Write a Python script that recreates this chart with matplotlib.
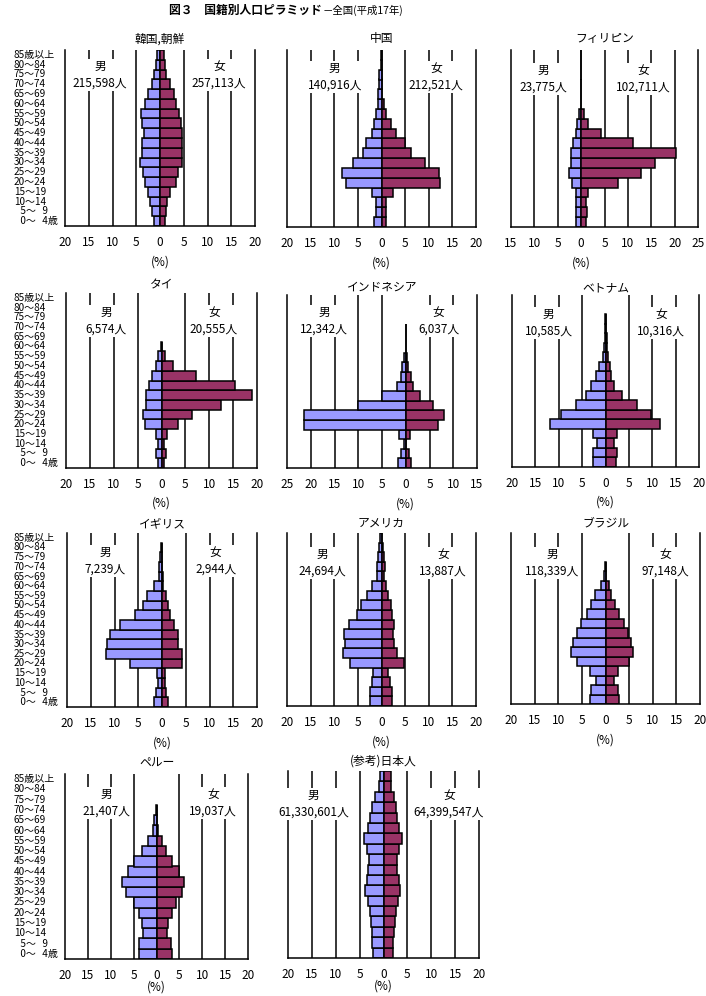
import numpy as np
import matplotlib.pyplot as plt

plt.rcParams['font.family'] = ['Noto Sans CJK JP', 'DejaVu Sans']

# 年齢階級（下から上へ）
ages = ['\u20070～\u20074歳', '\u20075～\u20079', '10～14', '15～19', '20～24', '25～29',
        '30～34', '35～39', '40～44', '45～49', '50～54', '55～59', '60～64',
        '65～69', '70～74', '75～79', '80～84', '85歳以上']

names = ['韓国,朝鮮', '中国', 'フィリピン', 'タイ', 'インドネシア', 'ベトナム',
         'イギリス', 'アメリカ', 'ブラジル', 'ペルー', '(参考)日本人']
male_total = ['215,598人', '140,916人', '23,775人', '6,574人', '12,342人', '10,585人',
              '7,239人', '24,694人', '118,339人', '21,407人', '61,330,601人']
female_total = ['257,113人', '212,521人', '102,711人', '20,555人', '6,037人', '10,316人',
                '2,944人', '13,887人', '97,148人', '19,037人', '64,399,547人']

# 構成比 (%)  0～4歳 ... 85歳以上
korea_m = [1.2, 1.65, 2.05, 2.5, 3.15, 3.55, 4.2, 3.8, 3.8, 3.4, 3.8, 4.0, 3.15, 2.5, 1.65, 1.3, 0.8, 0.65]
korea_f = [0.95, 1.35, 1.55, 2.2, 3.4, 3.7, 4.55, 4.55, 4.55, 4.55, 4.35, 3.9, 3.3, 2.85, 2.0, 1.35, 1.0, 0.8]
china_m = [1.5, 1.2, 1.2, 2.1, 7.5, 8.35, 6.0, 3.85, 3.2, 2.1, 1.5, 1.1, 0.65, 0.65, 0.5, 0.5, 0.1, 0.1]
china_f = [0.85, 0.85, 0.85, 2.4, 12.3, 12.1, 9.2, 6.3, 4.9, 3.0, 2.0, 0.9, 0.45, 0.1, 0.1, 0.1, 0.05, 0.05]
phil_m = [1.15, 1.15, 1.15, 1.15, 2.0, 2.65, 2.15, 2.15, 1.8, 1.15, 0.95, 0.45, 0.05, 0.05, 0.05, 0.05, 0.05, 0.05]
phil_f = [1.0, 1.2, 1.0, 1.4, 7.85, 12.8, 15.7, 20.3, 11.1, 4.2, 1.4, 0.55, 0.05, 0.05, 0.05, 0.05, 0.05, 0.05]
thai_m = [0.8, 1.1, 0.8, 1.1, 3.5, 3.9, 3.2, 3.2, 2.65, 1.95, 1.1, 0.8, 0.2, 0, 0, 0, 0, 0]
thai_f = [0.5, 1.0, 0.5, 1.15, 3.5, 6.4, 12.5, 19.0, 15.45, 7.3, 2.45, 0.8, 0.15, 0, 0, 0, 0, 0]
indo_m = [1.6, 0.9, 0.35, 1.35, 21.5, 21.5, 10.0, 5.1, 1.75, 0.9, 0.7, 0.4, 0.05, 0.05, 0.05, 0, 0, 0]
indo_f = [1.1, 0.7, 0.15, 0.9, 6.8, 8.1, 5.75, 3.1, 1.6, 1.2, 0.55, 0.35, 0.05, 0.05, 0.05, 0, 0, 0]
viet_m = [2.7, 2.7, 1.9, 2.7, 11.9, 9.6, 6.3, 4.1, 3.2, 2.1, 1.3, 0.55, 0.4, 0.1, 0.1, 0.05, 0, 0]
viet_f = [2.3, 2.5, 1.75, 2.5, 11.7, 9.8, 6.8, 3.45, 1.9, 1.25, 0.9, 0.55, 0.4, 0.25, 0.2, 0.05, 0, 0]
uk_m = [1.7, 1.2, 0.75, 1.0, 6.75, 11.8, 11.6, 10.9, 8.85, 5.7, 4.0, 3.15, 1.7, 0.6, 0.6, 0.4, 0.25, 0]
uk_f = [1.25, 0.85, 0.65, 0.65, 4.2, 4.2, 3.35, 3.35, 2.5, 1.7, 1.25, 0.85, 0.2, 0.3, 0.05, 0.05, 0.05, 0]
usa_m = [2.5, 2.5, 2.0, 1.75, 6.7, 8.1, 7.7, 7.95, 6.85, 5.2, 4.4, 3.0, 2.0, 1.0, 1.0, 0.8, 0.55, 0.4]
usa_f = [2.15, 2.15, 1.7, 1.3, 4.85, 3.2, 2.65, 2.4, 2.65, 2.25, 1.95, 1.3, 0.9, 0.55, 0.7, 0.55, 0.3, 0.15]
brazil_m = [3.3, 3.1, 2.05, 3.3, 6.05, 7.3, 6.9, 6.05, 5.2, 3.95, 3.1, 2.25, 1.0, 0.4, 0.1, 0, 0, 0]
brazil_f = [2.95, 2.75, 1.7, 2.75, 5.05, 5.9, 5.3, 4.7, 4.0, 2.95, 2.1, 1.25, 0.65, 0.1, 0.05, 0, 0, 0]
peru_m = [3.8, 3.8, 2.9, 3.1, 3.8, 4.85, 6.6, 7.5, 6.2, 4.85, 3.25, 1.8, 0.85, 0.5, 0.2, 0, 0, 0]
peru_f = [3.4, 3.25, 2.3, 2.55, 3.4, 4.3, 5.6, 6.05, 4.95, 3.4, 2.1, 1.25, 0.35, 0.1, 0.05, 0, 0, 0]
japan_m = [2.2, 2.4, 2.4, 2.6, 2.8, 3.3, 3.9, 3.5, 3.3, 3.1, 3.5, 4.1, 3.3, 2.8, 2.4, 1.8, 1.0, 0.7]
japan_f = [2.0, 2.0, 2.2, 2.4, 2.6, 3.0, 3.45, 3.25, 2.8, 2.8, 3.25, 3.95, 3.25, 2.8, 2.6, 2.2, 1.55, 1.55]

males = [korea_m, china_m, phil_m, thai_m, indo_m, viet_m, uk_m, usa_m, brazil_m, peru_m, japan_m]
females = [korea_f, china_f, phil_f, thai_f, indo_f, viet_f, uk_f, usa_f, brazil_f, peru_f, japan_f]
xlims = [(-20, 20), (-20, 20), (-15, 25), (-20, 20), (-25, 15), (-20, 20),
         (-20, 20), (-20, 20), (-20, 20), (-20, 20), (-20, 20)]

# レイアウト（ピクセル: 左, 右, 上, 下）
rects = [(65, 255, 50, 226), (287, 476, 50, 227), (511, 698, 50, 227),
         (66, 257, 293, 468), (287, 477, 295, 468), (512, 699, 295, 467),
         (67, 257, 533, 707), (287, 476, 533, 706), (511, 700, 533, 704),
         (65, 248, 774, 959), (288, 479, 771, 958)]
label_x = [(-12.6, 12.4), (-9.9, 11.6), (-8.0, 13.2), (-11.6, 11.0), (-17.2, 6.9), (-12.2, 11.9),
           (-11.9, 11.3), (-12.6, 13.0), (-11.3, 12.6), (-11.0, 12.3), (-14.6, 13.7)]
label_dy = [25, 27, 29, 28, 26, 28, 28, 30, 30, 29, 33]
pct_dy = [36, 36, 36, 35, 36, 35, 36, 36, 36, 28, 28]
title_pad = [5.5, 5.5, 5.5, 3, 3, 3, 4.5, 4.5, 4.5, 5, 5]
first_col = [0, 3, 6, 9]

W, H = 706, 996
fig = plt.figure(figsize=(W / 100, H / 100), dpi=100)
PT = 72 / 100  # px -> pt

male_c = '#9999FF'
female_c = '#993366'
y = np.arange(len(ages))

for i in range(len(names)):
    l, r, t, b = rects[i]
    ax = fig.add_axes([l / W, 1 - b / H, (r - l) / W, (b - t) / H])
    m = np.array(males[i])
    f = np.array(females[i])
    km = m > 0
    kf = f > 0
    ax.barh(y[km], -m[km], height=1.0, color=male_c, edgecolor='black', linewidth=1.1, zorder=2)
    ax.barh(y[kf], f[kf], height=1.0, color=female_c, edgecolor='black', linewidth=1.1, zorder=2)

    x0, x1 = xlims[i]
    for v in range(x0 + 5, x1, 5):
        if v != 0:
            ax.axvline(v, color='black', linewidth=1.1, zorder=1)
    ax.set_xlim(x0, x1)
    ax.set_ylim(-0.5, len(ages) - 0.5)
    ticks = list(range(x0, x1 + 1, 5))
    ax.set_xticks(ticks)
    ax.set_xticklabels([str(abs(v)) for v in ticks])
    ax.tick_params(axis='x', length=0, pad=7, labelsize=8.5)
    ax.set_yticks([])
    ax.spines['top'].set_visible(False)
    for s in ['left', 'right', 'bottom']:
        ax.spines[s].set_linewidth(1.1)
        ax.spines[s].set_color('black')
    ax.set_title(names[i], fontsize=8.5, pad=title_pad[i])

    for sx, txt in [(label_x[i][0], '男\n' + male_total[i]), (label_x[i][1], '女\n' + female_total[i])]:
        ax.annotate(txt, xy=(sx, 1), xycoords=('data', 'axes fraction'),
                    xytext=(0, -label_dy[i] * PT), textcoords='offset points',
                    ha='center', va='center', multialignment='center',
                    fontsize=8.5, linespacing=1.35, zorder=5,
                    bbox=dict(boxstyle='square,pad=0.1', fc='white', ec='none'))

    ax.annotate('(%)', xy=(0, 0), xycoords=('data', 'axes fraction'),
                xytext=(0, -pct_dy[i] * PT), textcoords='offset points',
                ha='center', va='center', fontsize=8.5)

    if i in first_col:
        for yy, a in zip(y, ages):
            ax.annotate(a, xy=(14 / W, yy), xycoords=(fig.transFigure, ax.transData),
                        ha='left', va='center', fontsize=7.2)

fig.text(322 / W, 1 - 10 / H, '図３　国籍別人口ピラミッド', ha='right', va='center',
         fontsize=8.5, fontweight='bold')
fig.text(323 / W, 1 - 10 / H, '－全国(平成17年)', ha='left', va='center', fontsize=7.5)

fig.savefig('out.png', dpi=100)
